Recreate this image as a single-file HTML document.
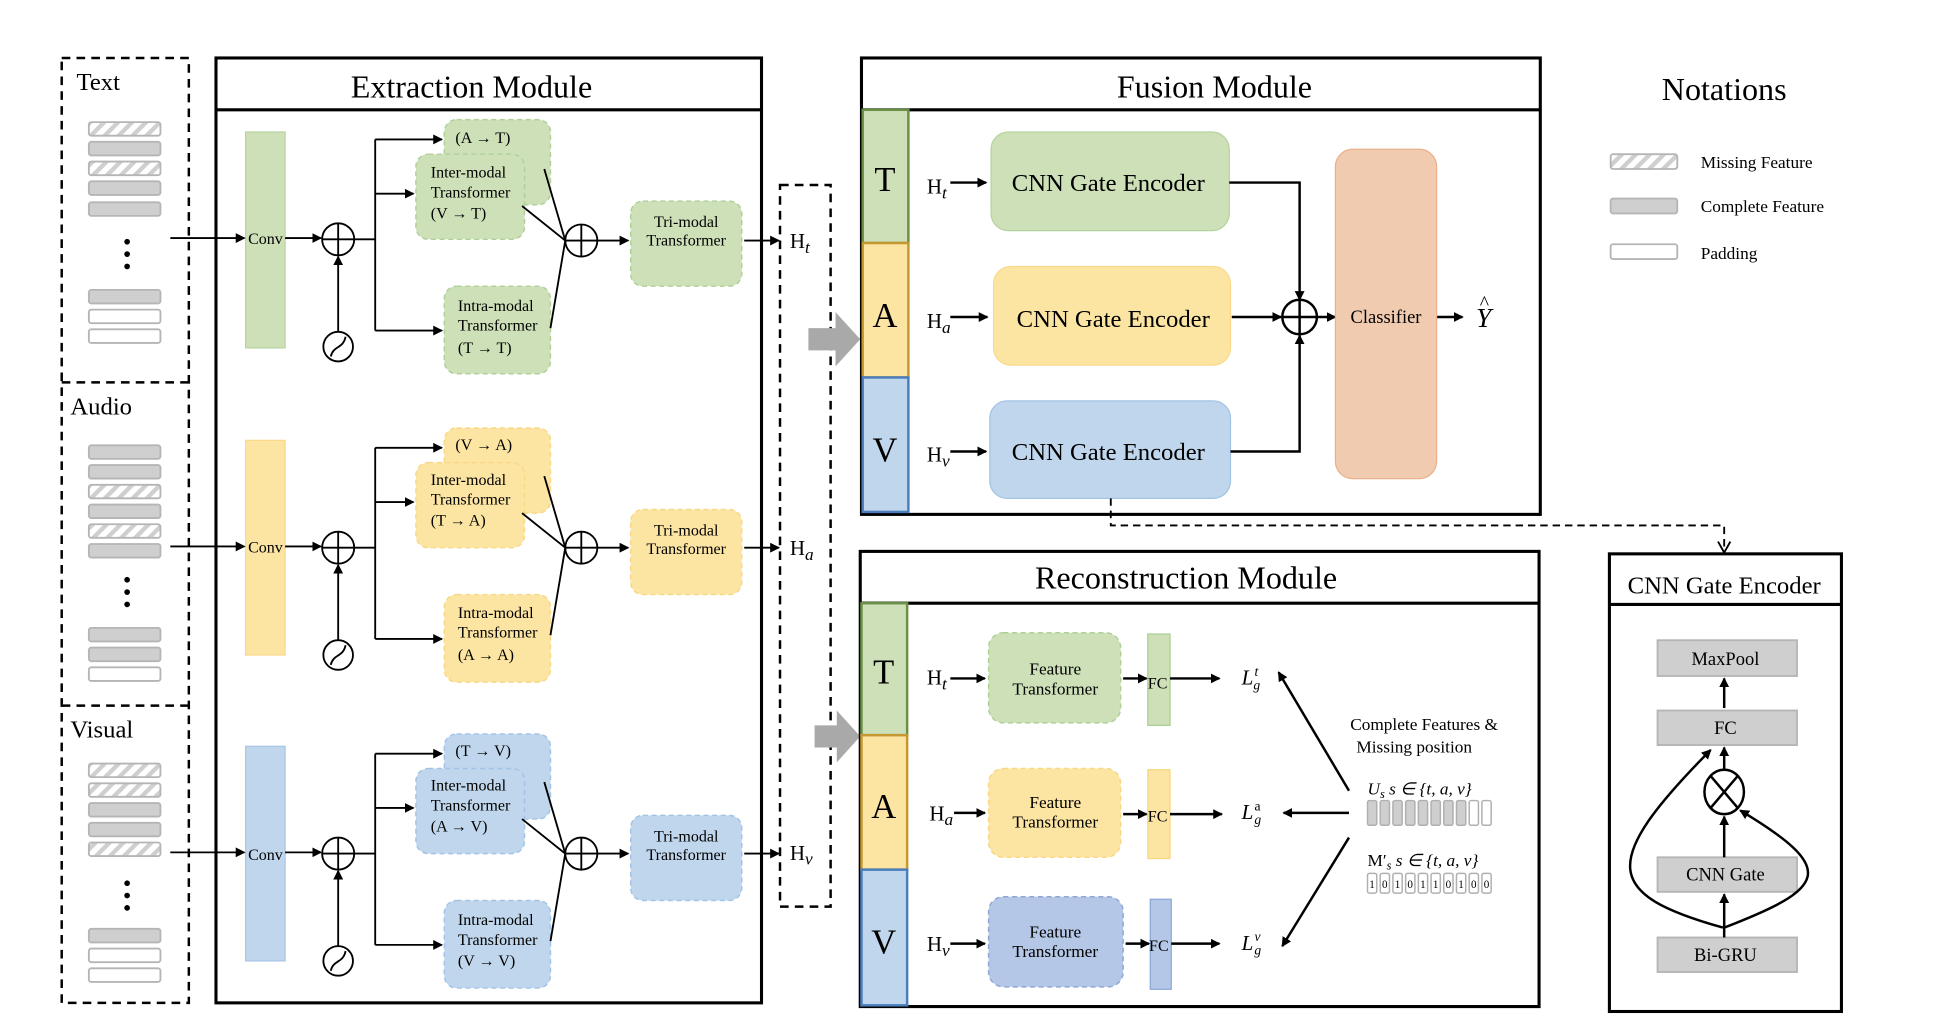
<!DOCTYPE html>
<html><head><meta charset="utf-8"><style>
html,body{margin:0;padding:0;background:#fff;width:1934px;height:1030px;overflow:hidden}
svg{display:block}
text{font-family:"Liberation Serif",serif;fill:#000}
</style></head><body>
<svg width="1934" height="1030" viewBox="0 0 1567 835" preserveAspectRatio="none" xmlns="http://www.w3.org/2000/svg">
<defs>
<marker id="a" markerWidth="8" markerHeight="8" refX="7" refY="4" orient="auto" markerUnits="userSpaceOnUse"><path d="M0,0 L8,4 L0,8 z" fill="#000"/></marker>
<pattern id="h" width="8" height="8" patternUnits="userSpaceOnUse" patternTransform="rotate(45)"><rect width="8" height="8" fill="#fff"/><rect width="3.5" height="8" fill="#cfcfcf"/></pattern>
</defs>

<!-- left input boxes -->
<g fill="none" stroke="#000" stroke-width="2" stroke-dasharray="7,5">
<rect x="50" y="47" width="103" height="766"/>
<line x1="50" y1="310" x2="153" y2="310"/><line x1="50" y1="572" x2="153" y2="572"/>
</g>
<text x="62" y="73" font-size="20">Text</text>
<text x="57" y="336" font-size="20">Audio</text>
<text x="57" y="598" font-size="20">Visual</text>
<g stroke="#b5b5b5" stroke-width="1.5">
<rect x="72" y="99" width="58" height="11" rx="2" fill="url(#h)"/>
<rect x="72" y="115" width="58" height="11" rx="2" fill="#d0cfd0"/>
<rect x="72" y="131" width="58" height="11" rx="2" fill="url(#h)"/>
<rect x="72" y="147" width="58" height="11" rx="2" fill="#d0cfd0"/>
<rect x="72" y="164" width="58" height="11" rx="2" fill="#d0cfd0"/>
<rect x="72" y="235" width="58" height="11" rx="2" fill="#d0cfd0"/>
<rect x="72" y="251" width="58" height="11" rx="2" fill="#fff"/>
<rect x="72" y="267" width="58" height="11" rx="2" fill="#fff"/>

<rect x="72" y="361" width="58" height="11" rx="2" fill="#d0cfd0"/>
<rect x="72" y="377" width="58" height="11" rx="2" fill="#d0cfd0"/>
<rect x="72" y="393" width="58" height="11" rx="2" fill="url(#h)"/>
<rect x="72" y="409" width="58" height="11" rx="2" fill="#d0cfd0"/>
<rect x="72" y="425" width="58" height="11" rx="2" fill="url(#h)"/>
<rect x="72" y="441" width="58" height="11" rx="2" fill="#d0cfd0"/>
<rect x="72" y="509" width="58" height="11" rx="2" fill="#d0cfd0"/>
<rect x="72" y="525" width="58" height="11" rx="2" fill="#d0cfd0"/>
<rect x="72" y="541" width="58" height="11" rx="2" fill="#fff"/>

<rect x="72" y="619" width="58" height="11" rx="2" fill="url(#h)"/>
<rect x="72" y="635" width="58" height="11" rx="2" fill="url(#h)"/>
<rect x="72" y="651" width="58" height="11" rx="2" fill="#d0cfd0"/>
<rect x="72" y="667" width="58" height="11" rx="2" fill="#d0cfd0"/>
<rect x="72" y="683" width="58" height="11" rx="2" fill="url(#h)"/>
<rect x="72" y="753" width="58" height="11" rx="2" fill="#d0cfd0"/>
<rect x="72" y="769" width="58" height="11" rx="2" fill="#fff"/>
<rect x="72" y="785" width="58" height="11" rx="2" fill="#fff"/>
</g>
<g fill="#000">
<circle cx="103" cy="196" r="2.3"/><circle cx="103" cy="206" r="2.3"/><circle cx="103" cy="216" r="2.3"/>
<circle cx="103" cy="470" r="2.3"/><circle cx="103" cy="480" r="2.3"/><circle cx="103" cy="490" r="2.3"/>
<circle cx="103" cy="716" r="2.3"/><circle cx="103" cy="726" r="2.3"/><circle cx="103" cy="736" r="2.3"/>
</g>

<!-- Extraction Module -->
<rect x="175" y="47" width="442" height="766" fill="none" stroke="#000" stroke-width="2.5"/>
<line x1="175" y1="89" x2="617" y2="89" stroke="#000" stroke-width="2.5"/>
<text x="382" y="79" font-size="26" text-anchor="middle">Extraction Module</text>

<!-- row template: text -->
<g id="rowT">
<rect x="199" y="107" width="32" height="175" fill="#cde0b8" stroke="#b8d4a0"/>
</g>
<rect x="199" y="357" width="32" height="174" fill="#fce5a3" stroke="#f9d98a"/>
<rect x="199" y="605" width="32" height="174" fill="#bfd6ec" stroke="#a8c6e6"/>

<g stroke="#000" stroke-width="1.5" fill="none">
<!-- common structure for three rows -->
<g>
<line x1="138" y1="193" x2="198" y2="193" marker-end="url(#a)"/>
<line x1="231" y1="193" x2="260" y2="193" marker-end="url(#a)"/>
<circle cx="274" cy="194" r="13"/><line x1="261" y1="194" x2="287" y2="194"/><line x1="274" y1="181" x2="274" y2="207"/>
<circle cx="274" cy="281" r="12"/><path d="M268,289 C270,280 278,283 280,273"/>
<line x1="274" y1="269" x2="274" y2="208" marker-end="url(#a)"/>
<polyline points="287,194 304,194"/><line x1="304" y1="113" x2="304" y2="268"/>
<line x1="304" y1="113" x2="358" y2="113" marker-end="url(#a)"/>
<line x1="304" y1="157" x2="335" y2="157" marker-end="url(#a)"/>
<line x1="304" y1="268" x2="358" y2="268" marker-end="url(#a)"/>
</g>
<g transform="translate(0,250)">
<line x1="138" y1="193" x2="198" y2="193" marker-end="url(#a)"/>
<line x1="231" y1="193" x2="260" y2="193" marker-end="url(#a)"/>
<circle cx="274" cy="194" r="13"/><line x1="261" y1="194" x2="287" y2="194"/><line x1="274" y1="181" x2="274" y2="207"/>
<circle cx="274" cy="281" r="12"/><path d="M268,289 C270,280 278,283 280,273"/>
<line x1="274" y1="269" x2="274" y2="208" marker-end="url(#a)"/>
<polyline points="287,194 304,194"/><line x1="304" y1="113" x2="304" y2="268"/>
<line x1="304" y1="113" x2="358" y2="113" marker-end="url(#a)"/>
<line x1="304" y1="157" x2="335" y2="157" marker-end="url(#a)"/>
<line x1="304" y1="268" x2="358" y2="268" marker-end="url(#a)"/>
</g>
<g transform="translate(0,498)">
<line x1="138" y1="193" x2="198" y2="193" marker-end="url(#a)"/>
<line x1="231" y1="193" x2="260" y2="193" marker-end="url(#a)"/>
<circle cx="274" cy="194" r="13"/><line x1="261" y1="194" x2="287" y2="194"/><line x1="274" y1="181" x2="274" y2="207"/>
<circle cx="274" cy="281" r="12"/><path d="M268,289 C270,280 278,283 280,273"/>
<line x1="274" y1="269" x2="274" y2="208" marker-end="url(#a)"/>
<polyline points="287,194 304,194"/><line x1="304" y1="113" x2="304" y2="268"/>
<line x1="304" y1="113" x2="358" y2="113" marker-end="url(#a)"/>
<line x1="304" y1="157" x2="335" y2="157" marker-end="url(#a)"/>
<line x1="304" y1="268" x2="358" y2="268" marker-end="url(#a)"/>
</g>
</g>

<!-- transformer boxes -->
<g stroke-width="1.2" stroke-dasharray="4,3">
<g fill="#cde0b8" stroke="#b0d09a">
<rect x="360" y="97" width="86" height="69" rx="10"/>
<rect x="337" y="125" width="88" height="69" rx="10"/>
<rect x="360" y="232" width="86" height="71" rx="10"/>
<rect x="511" y="163" width="90" height="69" rx="10"/>
</g>
<g fill="#fce5a3" stroke="#f8d785">
<rect x="360" y="347" width="86" height="69" rx="10"/>
<rect x="337" y="375" width="88" height="69" rx="10"/>
<rect x="360" y="482" width="86" height="71" rx="10"/>
<rect x="511" y="413" width="90" height="69" rx="10"/>
</g>
<g fill="#bfd6ec" stroke="#a3c3e6">
<rect x="360" y="595" width="86" height="69" rx="10"/>
<rect x="337" y="623" width="88" height="69" rx="10"/>
<rect x="360" y="730" width="86" height="71" rx="10"/>
<rect x="511" y="661" width="90" height="69" rx="10"/>
</g>
</g>

<g stroke="#000" stroke-width="1.5" fill="none">
<g>
<line x1="441" y1="137" x2="458" y2="195"/><line x1="423" y1="167" x2="458" y2="195"/><line x1="446" y1="266" x2="458" y2="195"/>
<circle cx="471" cy="195" r="13"/><line x1="458" y1="195" x2="484" y2="195"/><line x1="471" y1="182" x2="471" y2="208"/>
<line x1="484" y1="195" x2="509" y2="195" marker-end="url(#a)"/>
<line x1="603" y1="195" x2="631" y2="195" marker-end="url(#a)"/>
</g>
<g transform="translate(0,249)">
<line x1="441" y1="137" x2="458" y2="195"/><line x1="423" y1="167" x2="458" y2="195"/><line x1="446" y1="266" x2="458" y2="195"/>
<circle cx="471" cy="195" r="13"/><line x1="458" y1="195" x2="484" y2="195"/><line x1="471" y1="182" x2="471" y2="208"/>
<line x1="484" y1="195" x2="509" y2="195" marker-end="url(#a)"/>
<line x1="603" y1="195" x2="631" y2="195" marker-end="url(#a)"/>
</g>
<g transform="translate(0,497)">
<line x1="441" y1="137" x2="458" y2="195"/><line x1="423" y1="167" x2="458" y2="195"/><line x1="446" y1="266" x2="458" y2="195"/>
<circle cx="471" cy="195" r="13"/><line x1="458" y1="195" x2="484" y2="195"/><line x1="471" y1="182" x2="471" y2="208"/>
<line x1="484" y1="195" x2="509" y2="195" marker-end="url(#a)"/>
<line x1="603" y1="195" x2="631" y2="195" marker-end="url(#a)"/>
</g>
</g>

<g font-size="13">
<text x="201" y="198">Conv</text><text x="201" y="448">Conv</text><text x="201" y="697">Conv</text>
<text x="369" y="116">(A → T)</text>
<text x="349" y="144">Inter-modal</text><text x="349" y="160">Transformer</text><text x="349" y="177">(V → T)</text>
<text x="371" y="252">Intra-modal</text><text x="371" y="268">Transformer</text><text x="371" y="286">(T → T)</text>
<text x="556" y="184" text-anchor="middle">Tri-modal</text><text x="556" y="199" text-anchor="middle">Transformer</text>

<text x="369" y="365">(V → A)</text>
<text x="349" y="393">Inter-modal</text><text x="349" y="409">Transformer</text><text x="349" y="426">(T → A)</text>
<text x="371" y="501">Intra-modal</text><text x="371" y="517">Transformer</text><text x="371" y="535">(A → A)</text>
<text x="556" y="434" text-anchor="middle">Tri-modal</text><text x="556" y="449" text-anchor="middle">Transformer</text>

<text x="369" y="613">(T → V)</text>
<text x="349" y="641">Inter-modal</text><text x="349" y="657">Transformer</text><text x="349" y="674">(A → V)</text>
<text x="371" y="750">Intra-modal</text><text x="371" y="766">Transformer</text><text x="371" y="783">(V → V)</text>
<text x="556" y="682" text-anchor="middle">Tri-modal</text><text x="556" y="697" text-anchor="middle">Transformer</text>
</g>

<!-- H dashed box -->
<rect x="632" y="150" width="41" height="585" fill="none" stroke="#000" stroke-width="2" stroke-dasharray="7,5"/>
<g font-size="17"><text x="640" y="201">H<tspan font-style="italic" font-size="14" dy="4">t</tspan></text>
<text x="640" y="450">H<tspan font-style="italic" font-size="14" dy="4">a</tspan></text>
<text x="640" y="697">H<tspan font-style="italic" font-size="14" dy="4">v</tspan></text></g>

<!-- gray big arrows -->
<path d="M655,266 L677,266 L677,253 L697,275 L677,297 L677,284 L655,284 z" fill="#a9a9a9"/>
<path d="M660,588 L678,588 L678,576 L697,597 L678,618 L678,606 L660,606 z" fill="#a9a9a9"/>

<!-- Fusion Module -->
<rect x="698" y="47" width="550" height="370" fill="none" stroke="#000" stroke-width="2.5"/>
<line x1="698" y1="89" x2="1248" y2="89" stroke="#000" stroke-width="2.5"/>
<text x="984" y="79" font-size="26" text-anchor="middle">Fusion Module</text>
<rect x="699" y="89" width="37" height="108" fill="#cde0b8" stroke="#6a8f45" stroke-width="2"/>
<rect x="699" y="197" width="37" height="109" fill="#fce5a3" stroke="#c4982f" stroke-width="2"/>
<rect x="699" y="306" width="37" height="109" fill="#bfd6ec" stroke="#4a7dba" stroke-width="2"/>
<g font-size="28" text-anchor="middle"><text x="717" y="155">T</text><text x="717" y="265">A</text><text x="717" y="374">V</text></g>
<rect x="803" y="107" width="193" height="80" rx="14" fill="#cde0b8" stroke="#b5d49d"/>
<rect x="805" y="216" width="192" height="80" rx="14" fill="#fce5a3" stroke="#f9d98a"/>
<rect x="802" y="325" width="195" height="79" rx="14" fill="#bfd6ec" stroke="#a3c3e6"/>
<g font-size="20" text-anchor="middle"><text x="898" y="155">CNN Gate Encoder</text><text x="902" y="265">CNN Gate Encoder</text><text x="898" y="373">CNN Gate Encoder</text></g>
<g font-size="17"><text x="751" y="157">H<tspan font-style="italic" font-size="14" dy="4">t</tspan></text>
<text x="751" y="266">H<tspan font-style="italic" font-size="14" dy="4">a</tspan></text>
<text x="751" y="374">H<tspan font-style="italic" font-size="14" dy="4">v</tspan></text></g>
<g stroke="#000" stroke-width="2" fill="none">
<line x1="770" y1="148" x2="799" y2="148" marker-end="url(#a)"/>
<line x1="770" y1="257" x2="800" y2="257" marker-end="url(#a)"/>
<line x1="770" y1="366" x2="799" y2="366" marker-end="url(#a)"/>
<polyline points="996,148 1053,148 1053,243" marker-end="url(#a)"/>
<line x1="998" y1="257" x2="1038" y2="257" marker-end="url(#a)"/>
<polyline points="997,366 1053,366 1053,272" marker-end="url(#a)"/>
<circle cx="1053" cy="257" r="14"/><line x1="1039" y1="257" x2="1067" y2="257"/><line x1="1053" y1="243" x2="1053" y2="271"/>
<line x1="1067" y1="257" x2="1082" y2="257" marker-end="url(#a)"/>
<line x1="1162" y1="257" x2="1185" y2="257" marker-end="url(#a)"/>
</g>
<rect x="1082" y="121" width="82" height="267" rx="14" fill="#f0cbb0" stroke="#e9b08b"/>
<text x="1123" y="262" font-size="15" text-anchor="middle">Classifier</text>
<text x="1196" y="265" font-size="22" font-style="italic">Y</text><text x="1199" y="251" font-size="16">^</text>
<g stroke="#000" stroke-width="1.5" fill="none" stroke-dasharray="6,4">
<polyline points="900,404 900,426 1397,426 1397,445"/>
</g>
<path d="M1392,439 L1397,448 L1402,439" stroke="#000" stroke-width="1.5" fill="none"/>

<!-- Notations -->
<text x="1397" y="81" font-size="26" text-anchor="middle">Notations</text>
<g stroke="#b5b5b5" stroke-width="1.5">
<rect x="1305" y="125" width="54" height="12" rx="2" fill="url(#h)"/>
<rect x="1305" y="161" width="54" height="12" rx="2" fill="#d0cfd0"/>
<rect x="1305" y="198" width="54" height="12" rx="2" fill="#fff"/>
</g>
<g font-size="14"><text x="1378" y="136">Missing Feature</text><text x="1378" y="172">Complete Feature</text><text x="1378" y="210">Padding</text></g>

<!-- Reconstruction Module -->
<rect x="697" y="447" width="550" height="369" fill="none" stroke="#000" stroke-width="2.5"/>
<line x1="697" y1="489" x2="1247" y2="489" stroke="#000" stroke-width="2.5"/>
<text x="961" y="477" font-size="26" text-anchor="middle">Reconstruction Module</text>
<rect x="698" y="489" width="37" height="107" fill="#cde0b8" stroke="#6a8f45" stroke-width="2"/>
<rect x="698" y="596" width="37" height="109" fill="#fce5a3" stroke="#c4982f" stroke-width="2"/>
<rect x="698" y="705" width="37" height="110" fill="#bfd6ec" stroke="#4a7dba" stroke-width="2"/>
<g font-size="28" text-anchor="middle"><text x="716" y="554">T</text><text x="716" y="663">A</text><text x="716" y="773">V</text></g>
<g stroke-width="1.2" stroke-dasharray="4,3">
<rect x="801" y="513" width="107" height="73" rx="12" fill="#cde0b8" stroke="#b0d09a"/>
<rect x="801" y="623" width="107" height="72" rx="12" fill="#fce5a3" stroke="#f8d785"/>
<rect x="801" y="727" width="109" height="73" rx="12" fill="#b5c7e6" stroke="#8fa6d6"/>
</g>
<rect x="930" y="514" width="18" height="74" fill="#cde0b8" stroke="#a9cc8f"/>
<rect x="930" y="624" width="18" height="72" fill="#fce5a3" stroke="#f6d77d"/>
<rect x="932" y="729" width="17" height="73" fill="#b5c7e6" stroke="#8aa7d8"/>
<g font-size="14" text-anchor="middle">
<text x="855" y="547">Feature</text><text x="855" y="563">Transformer</text>
<text x="855" y="655">Feature</text><text x="855" y="671">Transformer</text>
<text x="855" y="760">Feature</text><text x="855" y="776">Transformer</text>
</g>
<g font-size="13"><text x="930" y="558">FC</text><text x="930" y="666">FC</text><text x="931" y="771">FC</text></g>
<g font-size="17"><text x="751" y="555">H<tspan font-style="italic" font-size="14" dy="4">t</tspan></text>
<text x="753" y="665">H<tspan font-style="italic" font-size="14" dy="4">a</tspan></text>
<text x="751" y="771">H<tspan font-style="italic" font-size="14" dy="4">v</tspan></text></g>
<g stroke="#000" stroke-width="2" fill="none">
<line x1="770" y1="550" x2="798" y2="550" marker-end="url(#a)"/>
<line x1="773" y1="659" x2="798" y2="659" marker-end="url(#a)"/>
<line x1="770" y1="765" x2="798" y2="765" marker-end="url(#a)"/>
<line x1="910" y1="550" x2="929" y2="550" marker-end="url(#a)"/>
<line x1="910" y1="660" x2="929" y2="660" marker-end="url(#a)"/>
<line x1="912" y1="765" x2="931" y2="765" marker-end="url(#a)"/>
<line x1="948" y1="550" x2="988" y2="550" marker-end="url(#a)"/>
<line x1="948" y1="660" x2="990" y2="660" marker-end="url(#a)"/>
<line x1="949" y1="765" x2="988" y2="765" marker-end="url(#a)"/>
<line x1="1093" y1="641" x2="1036" y2="545" marker-end="url(#a)"/>
<line x1="1093" y1="659" x2="1040" y2="659" marker-end="url(#a)"/>
<line x1="1093" y1="679" x2="1039" y2="767" marker-end="url(#a)"/>
</g>
<g font-size="17" font-style="italic">
<text x="1006" y="555">L<tspan font-size="11" dx="1" dy="-7">t</tspan><tspan font-size="11" dx="-4" dy="11">g</tspan></text>
<text x="1006" y="664">L<tspan font-size="11" font-style="normal" dx="1" dy="-7">a</tspan><tspan font-size="11" dx="-5" dy="11">g</tspan></text>
<text x="1006" y="770">L<tspan font-size="11" dx="1" dy="-7">v</tspan><tspan font-size="11" dx="-5" dy="11">g</tspan></text>
</g>
<g font-size="14"><text x="1094" y="592">Complete Features  &amp;</text><text x="1099" y="610">Missing position</text></g>
<text x="1108" y="644" font-size="14" font-style="italic">U<tspan font-size="10" dy="3">s</tspan><tspan dy="-3"> s ∈ {t, a, v}</tspan></text>
<text x="1108" y="702" font-size="14">M′<tspan font-size="10" font-style="italic" dy="3">s</tspan><tspan dy="-3" font-style="italic"> s ∈ {t, a, v}</tspan></text>
<g stroke="#b0b0b0" stroke-width="1.2">
<rect x="1108" y="649" width="7.5" height="20" rx="1.5" fill="#d0cfd0"/>
<rect x="1118.3" y="649" width="7.5" height="20" rx="1.5" fill="#d0cfd0"/>
<rect x="1128.6" y="649" width="7.5" height="20" rx="1.5" fill="#d0cfd0"/>
<rect x="1138.9" y="649" width="7.5" height="20" rx="1.5" fill="#d0cfd0"/>
<rect x="1149.2" y="649" width="7.5" height="20" rx="1.5" fill="#d0cfd0"/>
<rect x="1159.5" y="649" width="7.5" height="20" rx="1.5" fill="#d0cfd0"/>
<rect x="1169.8" y="649" width="7.5" height="20" rx="1.5" fill="#d0cfd0"/>
<rect x="1180.1" y="649" width="7.5" height="20" rx="1.5" fill="#d0cfd0"/>
<rect x="1190.4" y="649" width="7.5" height="20" rx="1.5" fill="#fff"/>
<rect x="1200.7" y="649" width="7.5" height="20" rx="1.5" fill="#fff"/>
</g>
<g stroke="#b0b0b0" stroke-width="1.2" fill="#fff">
<rect x="1108" y="708" width="7.5" height="16" rx="1.5"/><rect x="1118.3" y="708" width="7.5" height="16" rx="1.5"/>
<rect x="1128.6" y="708" width="7.5" height="16" rx="1.5"/><rect x="1138.9" y="708" width="7.5" height="16" rx="1.5"/>
<rect x="1149.2" y="708" width="7.5" height="16" rx="1.5"/><rect x="1159.5" y="708" width="7.5" height="16" rx="1.5"/>
<rect x="1169.8" y="708" width="7.5" height="16" rx="1.5"/><rect x="1180.1" y="708" width="7.5" height="16" rx="1.5"/>
<rect x="1190.4" y="708" width="7.5" height="16" rx="1.5"/><rect x="1200.7" y="708" width="7.5" height="16" rx="1.5"/>
</g>
<g font-size="9" text-anchor="middle" fill="#333">
<text x="1111.7" y="720">1</text><text x="1122" y="720">0</text><text x="1132.3" y="720">1</text><text x="1142.6" y="720">0</text><text x="1152.9" y="720">1</text>
<text x="1163.2" y="720">1</text><text x="1173.5" y="720">0</text><text x="1183.8" y="720">1</text><text x="1194.1" y="720">0</text><text x="1204.4" y="720">0</text>
</g>

<!-- CNN Gate Encoder detail -->
<rect x="1304" y="449" width="188" height="371" fill="none" stroke="#000" stroke-width="2.5"/>
<line x1="1304" y1="490" x2="1492" y2="490" stroke="#000" stroke-width="2.5"/>
<text x="1397" y="481" font-size="20" text-anchor="middle">CNN Gate Encoder</text>
<g fill="#d0cfd0" stroke="#b5b5b5" stroke-width="1.5">
<rect x="1343" y="519" width="113" height="29"/>
<rect x="1343" y="576" width="113" height="28"/>
<rect x="1343" y="695" width="113" height="28"/>
<rect x="1343" y="760" width="113" height="28"/>
</g>
<g font-size="15" text-anchor="middle"><text x="1398" y="539">MaxPool</text><text x="1398" y="595">FC</text><text x="1398" y="714">CNN Gate</text><text x="1398" y="779">Bi-GRU</text></g>
<g stroke="#000" stroke-width="2" fill="none">
<ellipse cx="1397" cy="642" rx="16" ry="18"/>
<line x1="1386" y1="629" x2="1408" y2="655"/><line x1="1408" y1="629" x2="1386" y2="655"/>
<line x1="1397" y1="760" x2="1397" y2="725" marker-end="url(#a)"/>
<line x1="1397" y1="695" x2="1397" y2="662" marker-end="url(#a)"/>
<line x1="1397" y1="624" x2="1397" y2="606" marker-end="url(#a)"/>
<line x1="1397" y1="574" x2="1397" y2="550" marker-end="url(#a)"/>
<path d="M1396,752 C1300,725 1295,700 1386,608" marker-end="url(#a)"/>
<path d="M1397,752 C1480,720 1490,705 1410,657" marker-end="url(#a)"/>
</g>
</svg>
</body></html>
